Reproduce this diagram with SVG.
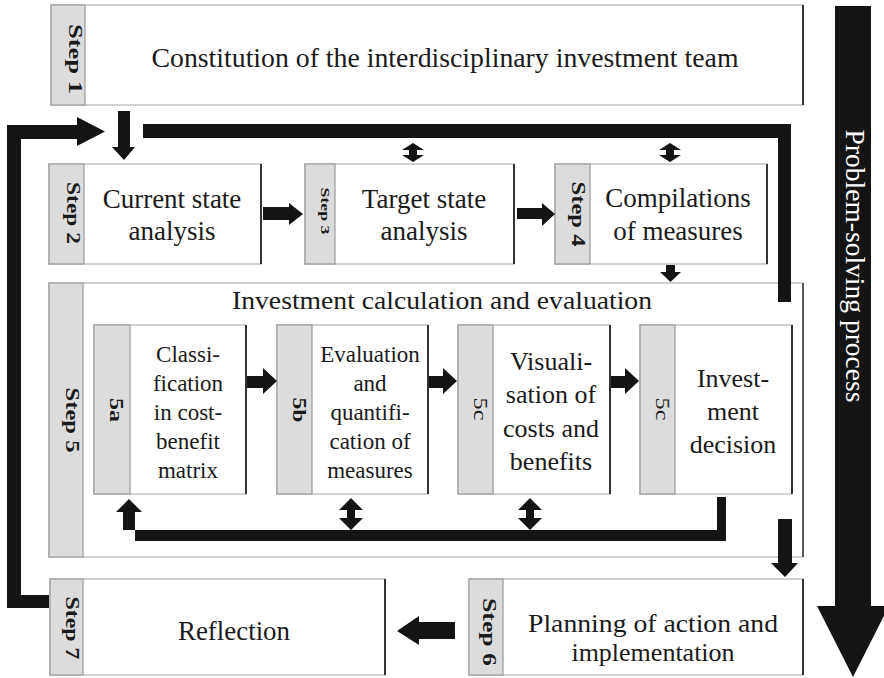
<svg xmlns="http://www.w3.org/2000/svg" width="884" height="678" viewBox="0 0 884 678">
<style>
.box{fill:#fff;stroke:#c4c4c4;stroke-width:1.5}
.strip{fill:#dcdcdc;stroke:#9a9a9a;stroke-width:1.2}
.edge{stroke:#333;stroke-width:2}
.k{fill:#141414}
.t{font-family:"Liberation Serif","Times New Roman",serif;fill:#1a1a1a;text-anchor:middle}
.lab{font-family:"Liberation Serif","Times New Roman",serif;font-weight:bold;fill:#1a1a1a;text-anchor:middle}
</style>
<rect width="884" height="678" fill="#fff"/>

<g id="process-arrow">
<polygon class="k" points="835,6 871,6 871,606 889,606 853,677 817,606 835,606"/>
<text class="t" transform="translate(846,266) rotate(90)" font-size="27" style="fill:#fff" textLength="273" lengthAdjust="spacingAndGlyphs">Problem-solving process</text>
</g>

<g id="step1">
<rect class="box" x="51" y="5" width="752" height="100"/>
<rect class="strip" x="51" y="5" width="34" height="100"/>
<line class="edge" x1="803" y1="5" x2="803" y2="105"/>
<text class="lab" transform="translate(69,59) rotate(90)" font-size="19" textLength="70" lengthAdjust="spacingAndGlyphs">Step 1</text>
<text class="t" x="445" y="67" font-size="28" textLength="587" lengthAdjust="spacingAndGlyphs">Constitution of the interdisciplinary investment team</text>
</g>

<g id="step2">
<rect class="box" x="49" y="164" width="212" height="100"/>
<rect class="strip" x="49" y="164" width="35" height="100"/>
<line class="edge" x1="261" y1="164" x2="261" y2="264"/>
<text class="lab" transform="translate(67,213) rotate(90)" font-size="19" textLength="62" lengthAdjust="spacingAndGlyphs">Step 2</text>
<text class="t" x="172" y="208" font-size="27">Current state</text>
<text class="t" x="172" y="240" font-size="27">analysis</text>
</g>

<g id="step3">
<rect class="box" x="305" y="164" width="209" height="100"/>
<rect class="strip" x="305" y="164" width="30" height="100"/>
<line class="edge" x1="514" y1="164" x2="514" y2="264"/>
<text class="lab" transform="translate(321,211) rotate(90)" font-size="13" textLength="47" lengthAdjust="spacingAndGlyphs">Step 3</text>
<text class="t" x="424" y="208" font-size="27">Target state</text>
<text class="t" x="424" y="240" font-size="27">analysis</text>
</g>

<g id="step4">
<rect class="box" x="555" y="164" width="212" height="100"/>
<rect class="strip" x="555" y="164" width="35" height="100"/>
<line class="edge" x1="767" y1="164" x2="767" y2="264"/>
<text class="lab" transform="translate(572,214) rotate(90)" font-size="19" textLength="65" lengthAdjust="spacingAndGlyphs">Step 4</text>
<text class="t" x="678" y="207" font-size="27">Compilations</text>
<text class="t" x="678" y="240" font-size="27">of measures</text>
</g>

<g id="step5">
<rect class="box" x="49" y="283" width="754" height="274"/>
<rect class="strip" x="49" y="283" width="34" height="274"/>
<line class="edge" x1="803" y1="283" x2="803" y2="557" style="stroke-width:1.5"/>
<text class="lab" transform="translate(66,420) rotate(90)" font-size="19" textLength="65" lengthAdjust="spacingAndGlyphs">Step 5</text>
<text class="t" x="442" y="309" font-size="26" textLength="420" lengthAdjust="spacingAndGlyphs">Investment calculation and evaluation</text>
</g>

<g id="step5a">
<rect class="box" x="94" y="325" width="152" height="169"/>
<rect class="strip" x="94" y="325" width="36" height="169"/>
<line class="edge" x1="246" y1="325" x2="246" y2="494"/>
<text class="lab" transform="translate(110,410) rotate(90)" font-size="18" textLength="24" lengthAdjust="spacingAndGlyphs">5a</text>
<text class="t" font-size="23"><tspan x="188" y="362">Classi-</tspan><tspan x="188" y="391">fication</tspan><tspan x="188" y="420">in cost-</tspan><tspan x="188" y="449">benefit</tspan><tspan x="188" y="478">matrix</tspan></text>
</g>

<g id="step5b">
<rect class="box" x="277" y="325" width="151" height="169"/>
<rect class="strip" x="277" y="325" width="35" height="169"/>
<line class="edge" x1="428" y1="325" x2="428" y2="494"/>
<text class="lab" transform="translate(293,410) rotate(90)" font-size="18" textLength="25" lengthAdjust="spacingAndGlyphs">5b</text>
<text class="t" font-size="23"><tspan x="370" y="362">Evaluation</tspan><tspan x="370" y="391">and</tspan><tspan x="370" y="420">quantifi-</tspan><tspan x="370" y="449">cation of</tspan><tspan x="370" y="478">measures</tspan></text>
</g>

<g id="step5c">
<rect class="box" x="458" y="325" width="152" height="169"/>
<rect class="strip" x="458" y="325" width="35" height="169"/>
<line class="edge" x1="610" y1="325" x2="610" y2="494"/>
<text class="t" transform="translate(474,409) rotate(90)" font-size="18" textLength="23" lengthAdjust="spacingAndGlyphs">5c</text>
<text class="t" font-size="26"><tspan x="551" y="370">Visuali-</tspan><tspan x="551" y="403">sation of</tspan><tspan x="551" y="437">costs and</tspan><tspan x="551" y="470">benefits</tspan></text>
</g>

<g id="step5d">
<rect class="box" x="640" y="325" width="152" height="169"/>
<rect class="strip" x="640" y="325" width="35" height="169"/>
<line class="edge" x1="792" y1="325" x2="792" y2="494"/>
<text class="t" transform="translate(656,409) rotate(90)" font-size="18" textLength="23" lengthAdjust="spacingAndGlyphs">5c</text>
<text class="t" font-size="26"><tspan x="733" y="387">Invest-</tspan><tspan x="733" y="420">ment</tspan><tspan x="733" y="453">decision</tspan></text>
</g>

<g id="step6">
<rect class="box" x="469" y="579" width="334" height="96"/>
<rect class="strip" x="469" y="579" width="34" height="96"/>
<line class="edge" x1="803" y1="579" x2="803" y2="675"/>
<text class="lab" transform="translate(483,632) rotate(90)" font-size="19" textLength="68" lengthAdjust="spacingAndGlyphs">Step 6</text>
<text class="t" x="653" y="632" font-size="26" textLength="250" lengthAdjust="spacingAndGlyphs">Planning of action and</text>
<text class="t" x="653" y="661" font-size="26">implementation</text>
</g>

<g id="step7">
<rect class="box" x="50" y="579" width="335" height="96"/>
<rect class="strip" x="50" y="579" width="33" height="96"/>
<line class="edge" x1="385" y1="579" x2="385" y2="675"/>
<text class="lab" transform="translate(66,628) rotate(90)" font-size="19" textLength="63" lengthAdjust="spacingAndGlyphs">Step 7</text>
<text class="t" x="234" y="640" font-size="28" textLength="112" lengthAdjust="spacingAndGlyphs">Reflection</text>
</g>

<g id="connectors">
<polygon class="k" points="49,595 49,608 7,608 7,125 77,125 77,117 105,131.5 77,146 77,139 21,139 21,595"/>
<polygon class="k" points="118,111 130,111 130,147 135,147 124,160 112,147 118,147"/>
<polygon class="k" points="143,124 791,124 791,302 778,302 778,138 143,138"/>
<polygon class="k" points="413,143 424,150 417,150 417,155 424,155 413,162 402,155 409,155 409,150 402,150"/>
<polygon class="k" points="670,143 681,150 674,150 674,155 681,155 670,162 659,155 666,155 666,150 659,150"/>
<polygon class="k" points="263,207 289,207 289,203 303,214 289,225 289,220 263,220"/>
<polygon class="k" points="517,208 542,208 542,203 555,214 542,226 542,219 517,219"/>
<polygon class="k" points="666,265 675,265 675,272 681,272 670.5,282 660,272 666,272"/>
<polygon class="k" points="247,376 263,376 263,368 277,381 263,394 263,388 247,388"/>
<polygon class="k" points="429,376 443,376 443,368 457,381 443,394 443,388 429,388"/>
<polygon class="k" points="611,376 625,376 625,368 639,381 625,394 625,388 611,388"/>
<polygon class="k" points="717,497 726,497 726,541 135,541 135,512 142,512 129,499 116,512 123,512 123,530 717,530"/>
<polygon class="k" points="351,498 363,510 355,510 355,518 363,518 351,530 339,518 347,518 347,510 339,510"/>
<polygon class="k" points="530,498 542,510 534,510 534,518 542,518 530,530 518,518 526,518 526,510 518,510"/>
<polygon class="k" points="778,519 792,519 792,563 798,563 785,577 771,563 778,563"/>
<polygon class="k" points="455,622 455,639 419,639 419,645 397,631 419,616 419,622"/>
</g>
</svg>
